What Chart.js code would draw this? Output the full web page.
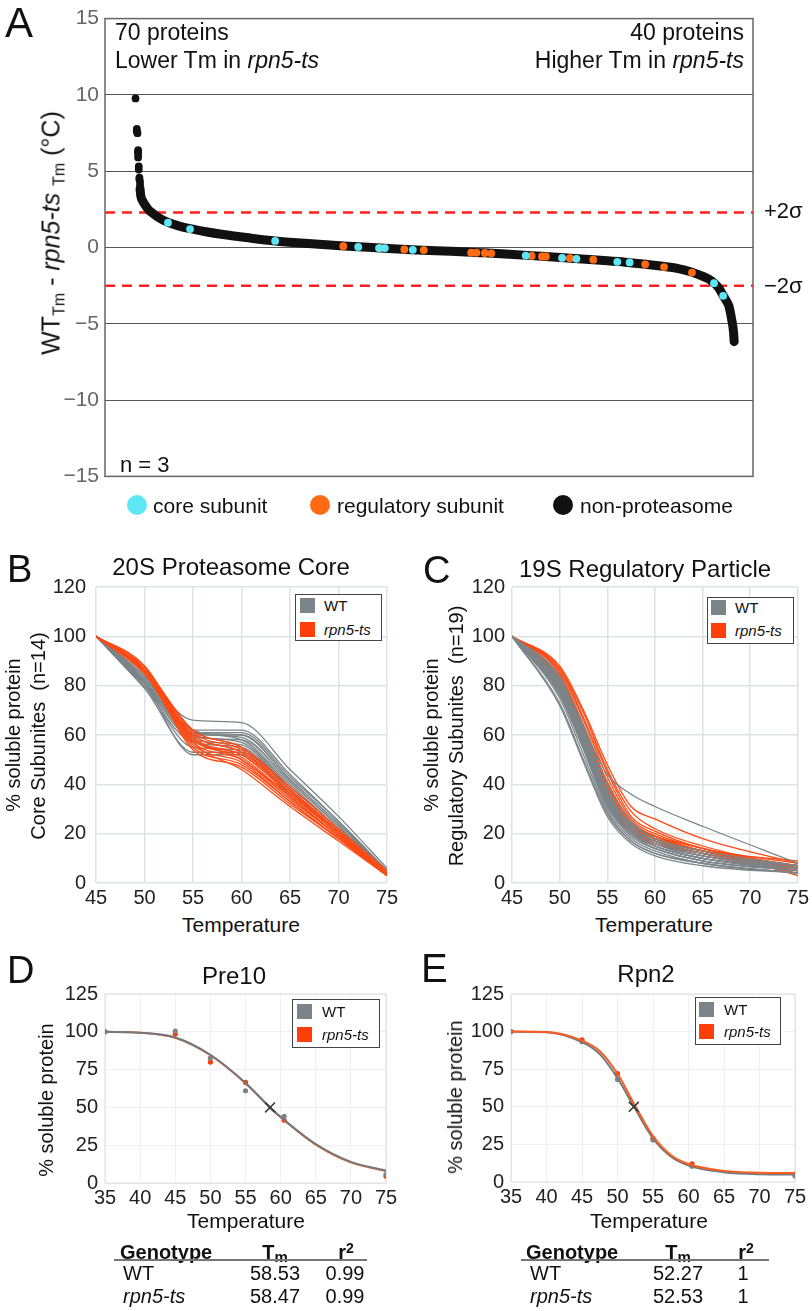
<!DOCTYPE html>
<html>
<head>
<meta charset="utf-8">
<script src="https://cdn.jsdelivr.net/npm/chart.js@4.4.0/dist/chart.umd.min.js"></script>
<style>
body { margin: 0; background: #fff; }
#pagina { position: relative; width: 812px; height: 1311px; overflow: hidden; font-family: 'Liberation Sans', Arial, sans-serif; color: #111; }
canvas { position: absolute; }
.t { position: absolute; white-space: pre; line-height: 1; transform: translateY(-50%); }
.tc { position: absolute; white-space: pre; line-height: 1; transform: translate(-50%, -50%); }
.tr { position: absolute; white-space: pre; line-height: 1; transform: translate(-100%, -50%); }
.rot { position: absolute; white-space: pre; line-height: 1; transform: translate(-50%, -50%) rotate(-90deg); }
.letra { position: absolute; line-height: 1; transform: translateY(-50%); font-size: 38px; }
.leg { position: absolute; border: 1px solid #444; background: #fff; box-sizing: border-box; }
.sw { position: absolute; width: 15px; height: 15px; }
.bola { position: absolute; width: 20px; height: 20px; border-radius: 50%; transform: translate(-50%, -50%); }
.linha { position: absolute; height: 2px; background: #777; }
.sm { font-size: 16px; }
</style>
</head>
<body>
<div id="pagina">
  <canvas id="chartA" width="812" height="495" style="left:0;top:0;width:812px;height:495px"></canvas>
  <canvas id="chartB" width="405" height="350" style="left:0;top:560px;width:405px;height:350px"></canvas>
  <canvas id="chartC" width="402" height="350" style="left:410px;top:560px;width:402px;height:350px"></canvas>
  <canvas id="chartD" width="405" height="240" style="left:0;top:975px;width:405px;height:240px"></canvas>
  <canvas id="chartE" width="402" height="240" style="left:410px;top:975px;width:402px;height:240px"></canvas>

  <!-- painel A -->
  <div class="letra" style="left:5px;top:23px;font-size:42px">A</div>
  <div class="t" style="left:115px;top:32px;font-size:23px">70 proteins</div>
  <div class="t" style="left:115px;top:60px;font-size:23px">Lower Tm in <i>rpn5-ts</i></div>
  <div class="tr" style="left:744px;top:32px;font-size:23px">40 proteins</div>
  <div class="tr" style="left:744px;top:60px;font-size:23px">Higher Tm in <i>rpn5-ts</i></div>
  <div class="t" style="left:764px;top:211px;font-size:22px">+2σ</div>
  <div class="t" style="left:764px;top:286px;font-size:22px">−2σ</div>
  <div class="t" style="left:120px;top:465px;font-size:22px">n = 3</div>
  <div class="rot" style="left:51px;top:233px;font-size:25px">WT<span class="sm" style="position:relative;top:5px">Tm</span> - <i>rpn5-ts</i> <span class="sm" style="position:relative;top:5px">Tm</span> (°C)</div>
  <div class="bola" style="left:137px;top:505px;background:#5fe6f4"></div>
  <div class="t" style="left:153px;top:505px;font-size:21px">core subunit</div>
  <div class="bola" style="left:320px;top:505px;background:#ff6a12"></div>
  <div class="t" style="left:337px;top:505px;font-size:21px">regulatory subunit</div>
  <div class="bola" style="left:563px;top:505px;background:#111"></div>
  <div class="t" style="left:580px;top:505px;font-size:21px">non-proteasome</div>

  <!-- painel B -->
  <div class="letra" style="left:7px;top:569px">B</div>
  <div class="tc" style="left:231px;top:567px;font-size:24px">20S Proteasome Core</div>
  <div class="rot" style="left:13px;top:735px;font-size:20px">% soluble protein</div>
  <div class="rot" style="left:38px;top:736px;font-size:20px">Core Subunites  (n=14)</div>
  <div class="tc" style="left:241px;top:924px;font-size:21px">Temperature</div>
  <div class="leg" style="left:295px;top:594px;width:87px;height:47px"></div>
  <div class="sw" style="left:300px;top:598px;background:#7b8589"></div>
  <div class="t" style="left:324px;top:605px;font-size:15px">WT</div>
  <div class="sw" style="left:300px;top:622px;background:#ff3f0a"></div>
  <div class="t" style="left:324px;top:629px;font-size:15px"><i>rpn5-ts</i></div>

  <!-- painel C -->
  <div class="letra" style="left:423px;top:570px">C</div>
  <div class="tc" style="left:645px;top:569px;font-size:24px">19S Regulatory Particle</div>
  <div class="rot" style="left:431px;top:735px;font-size:20px">% soluble protein</div>
  <div class="rot" style="left:456px;top:736px;font-size:20px">Regulatory Subunites  (n=19)</div>
  <div class="tc" style="left:654px;top:924px;font-size:21px">Temperature</div>
  <div class="leg" style="left:707px;top:597px;width:87px;height:47px"></div>
  <div class="sw" style="left:711px;top:600px;background:#7b8589"></div>
  <div class="t" style="left:735px;top:607px;font-size:15px">WT</div>
  <div class="sw" style="left:711px;top:623px;background:#ff3f0a"></div>
  <div class="t" style="left:735px;top:630px;font-size:15px"><i>rpn5-ts</i></div>

  <!-- painel D -->
  <div class="letra" style="left:7px;top:970px">D</div>
  <div class="tc" style="left:234px;top:976px;font-size:24px">Pre10</div>
  <div class="rot" style="left:46px;top:1100px;font-size:20px">% soluble protein</div>
  <div class="tc" style="left:246px;top:1220px;font-size:21px">Temperature</div>
  <div class="leg" style="left:292px;top:999px;width:88px;height:49px"></div>
  <div class="sw" style="left:297px;top:1004px;background:#7b8589"></div>
  <div class="t" style="left:322px;top:1011px;font-size:15px">WT</div>
  <div class="sw" style="left:297px;top:1027px;background:#ff3f0a"></div>
  <div class="t" style="left:322px;top:1034px;font-size:15px"><i>rpn5-ts</i></div>

  <div class="t" style="left:120px;top:1252px;font-size:20px;font-weight:bold">Genotype</div>
  <div class="tc" style="left:275px;top:1252px;font-size:20px;font-weight:bold">T<span style="font-size:15px;position:relative;top:3px">m</span></div>
  <div class="tc" style="left:346px;top:1252px;font-size:20px;font-weight:bold">r<span style="font-size:14px;position:relative;top:-6px">2</span></div>
  <div class="linha" style="left:114px;top:1259px;width:253px"></div>
  <div class="t" style="left:123px;top:1273px;font-size:20px">WT</div>
  <div class="tc" style="left:275px;top:1273px;font-size:20px">58.53</div>
  <div class="tc" style="left:345px;top:1273px;font-size:20px">0.99</div>
  <div class="t" style="left:123px;top:1296px;font-size:20px"><i>rpn5-ts</i></div>
  <div class="tc" style="left:275px;top:1296px;font-size:20px">58.47</div>
  <div class="tc" style="left:345px;top:1296px;font-size:20px">0.99</div>

  <!-- painel E -->
  <div class="letra" style="left:421px;top:968px;font-size:40px">E</div>
  <div class="tc" style="left:646px;top:974px;font-size:24px">Rpn2</div>
  <div class="rot" style="left:455px;top:1097px;font-size:20px">% soluble protein</div>
  <div class="tc" style="left:649px;top:1220px;font-size:21px">Temperature</div>
  <div class="leg" style="left:695px;top:997px;width:86px;height:48px"></div>
  <div class="sw" style="left:699px;top:1002px;background:#7b8589"></div>
  <div class="t" style="left:724px;top:1009px;font-size:15px">WT</div>
  <div class="sw" style="left:699px;top:1024px;background:#ff3f0a"></div>
  <div class="t" style="left:724px;top:1031px;font-size:15px"><i>rpn5-ts</i></div>

  <div class="t" style="left:526px;top:1252px;font-size:20px;font-weight:bold">Genotype</div>
  <div class="tc" style="left:678px;top:1252px;font-size:20px;font-weight:bold">T<span style="font-size:15px;position:relative;top:3px">m</span></div>
  <div class="tc" style="left:746px;top:1252px;font-size:20px;font-weight:bold">r<span style="font-size:14px;position:relative;top:-6px">2</span></div>
  <div class="linha" style="left:521px;top:1259px;width:248px"></div>
  <div class="t" style="left:530px;top:1273px;font-size:20px">WT</div>
  <div class="tc" style="left:678px;top:1273px;font-size:20px">52.27</div>
  <div class="tc" style="left:743px;top:1273px;font-size:20px">1</div>
  <div class="t" style="left:530px;top:1296px;font-size:20px"><i>rpn5-ts</i></div>
  <div class="tc" style="left:678px;top:1296px;font-size:20px">52.53</div>
  <div class="tc" style="left:743px;top:1296px;font-size:20px">1</div>
</div>

<script>
const FONTE = "'Liberation Sans', Arial, sans-serif";
const CINZA = '#7b8589';
const LARANJA = '#ff4a14';

// ---- Painel A: diferença de Tm por proteína (ordem de ranking) ----
const aYTicks = [-15, -10, -5, 0, 5, 10, 15];
const aSigma = [2.30, -2.51];
const aCaudaRank = [44, 46, 46, 47, 48, 48, 48, 48, 49, 49, 50, 50, 51, 51];
const aCaudaVal = [9.77, 7.77, 7.62, 7.49, 6.38, 6.25, 6.13, 5.90, 5.32, 5.11, 4.58, 4.45, 4.30, 4.05];
const aFaixaRank = [51, 52, 55, 59, 64, 71, 80, 94, 110, 128, 150, 179, 215, 259, 310, 365, 421, 477, 530, 575, 620, 670, 720, 760, 798, 830, 858, 880, 900, 915, 928, 937, 943, 949, 954, 958, 962, 965, 966];
const aFaixaVal = [3.85, 3.41, 3.05, 2.77, 2.48, 2.23, 1.95, 1.64, 1.42, 1.23, 1.05, 0.85, 0.65, 0.43, 0.26, 0.10, -0.03, -0.16, -0.25, -0.34, -0.44, -0.58, -0.72, -0.84, -0.96, -1.10, -1.25, -1.38, -1.60, -1.84, -2.10, -2.40, -2.70, -3.15, -3.50, -3.85, -4.68, -5.53, -6.17];
const coreRank = [94, 128, 259, 387, 419, 428, 471, 645, 701, 723, 786, 805, 935, 949];
const coreVal = [1.63, 1.21, 0.43, 0.04, -0.04, -0.04, -0.15, -0.53, -0.68, -0.74, -0.94, -0.98, -2.34, -3.17];
const regRank = [364, 421, 458, 488, 561, 569, 582, 592, 654, 670, 676, 713, 749, 829, 858, 901];
const regVal = [0.09, -0.04, -0.13, -0.17, -0.34, -0.34, -0.36, -0.38, -0.55, -0.59, -0.59, -0.70, -0.80, -1.10, -1.28, -1.64];

// ---- Painel B: 20S (temperaturas e curvas) ----
const bTemps = [45, 50, 55, 60, 65, 70, 75];
const bWT = [
    [100, 84, 66, 65, 46, 27, 6],
    [100, 83, 62, 62, 44, 25, 5],
    [100, 82, 61, 61, 43, 25, 5],
    [100, 82, 60, 60, 42, 24, 5],
    [100, 81, 61, 59, 41, 23, 4],
    [100, 83, 62, 58, 40, 22, 4],
    [100, 80, 59, 58, 41, 23, 5],
    [100, 82, 60, 57, 39, 22, 4],
    [100, 81, 58, 56, 38, 21, 4],
    [100, 79, 57, 55, 38, 21, 3],
    [100, 80, 55, 54, 37, 20, 3],
    [100, 79, 53, 53, 36, 20, 3],
    [100, 81, 52, 52, 35, 19, 3],
    [100, 84, 61, 60, 42, 24, 5]
];
const bTs = [
    [100, 87, 62, 55, 38, 21, 4],
    [100, 86, 60, 53, 37, 20, 4],
    [100, 88, 59, 52, 36, 20, 3],
    [100, 86, 58, 51, 35, 19, 3],
    [100, 85, 57, 50, 34, 19, 3],
    [100, 87, 61, 54, 37, 21, 4],
    [100, 86, 56, 49, 33, 18, 3],
    [100, 85, 55, 48, 33, 18, 3],
    [100, 87, 54, 47, 32, 18, 3],
    [100, 86, 58, 52, 36, 20, 4],
    [100, 85, 60, 53, 37, 21, 4],
    [100, 88, 57, 46, 31, 17, 3],
    [100, 86, 62, 55, 39, 22, 5],
    [100, 85, 59, 50, 35, 19, 4]
];

// ---- Painel C: 19S ----
const cTemps = [45, 50, 52.5, 55, 57.5, 60, 65, 75];
const cWT = [
    [100, 84, 64, 40, 25, 18, 12, 7],
    [100, 82, 62, 38, 23, 17, 11, 7],
    [100, 81, 60, 36, 22, 16, 11, 6],
    [100, 80, 59, 35, 22, 16, 10, 6],
    [100, 79, 58, 34, 21, 15, 10, 6],
    [100, 78, 57, 33, 21, 15, 10, 5],
    [100, 80, 57, 32, 20, 14, 9, 5],
    [100, 77, 55, 31, 19, 14, 9, 5],
    [100, 76, 54, 30, 18, 13, 8, 4],
    [100, 75, 52, 29, 17, 12, 8, 4],
    [100, 73, 50, 28, 17, 12, 8, 4],
    [100, 72, 49, 27, 16, 11, 7, 4],
    [100, 82, 61, 37, 23, 17, 11, 7],
    [100, 79, 56, 33, 20, 15, 10, 6],
    [100, 81, 63, 44, 36, 31, 23, 8],
    [100, 78, 58, 35, 24, 18, 13, 7],
    [100, 83, 60, 34, 21, 15, 10, 5],
    [100, 77, 56, 32, 19, 14, 9, 5],
    [100, 80, 60, 36, 24, 18, 12, 7]
];
const cTs = [
    [100, 88, 70, 48, 31, 26, 18, 8],
    [100, 87, 69, 46, 29, 22, 15, 6],
    [100, 87, 67, 45, 27, 21, 14, 7],
    [100, 86, 66, 43, 26, 20, 14, 8],
    [100, 85, 64, 41, 25, 19, 13, 7],
    [100, 85, 62, 39, 24, 18, 13, 6],
    [100, 82, 61, 37, 23, 18, 13, 5],
    [100, 80, 59, 35, 22, 17, 12, 4],
    [100, 81, 60, 36, 23, 18, 13, 6],
    [100, 79, 57, 34, 21, 17, 12, 7],
    [100, 83, 62, 38, 24, 19, 13, 6],
    [100, 78, 56, 33, 21, 16, 12, 5],
    [100, 80, 58, 35, 23, 18, 13, 9],
    [100, 82, 60, 36, 24, 19, 14, 3],
    [100, 79, 58, 34, 22, 17, 12, 6],
    [100, 81, 59, 35, 22, 17, 12, 5],
    [100, 84, 63, 40, 25, 19, 13, 7],
    [100, 77, 55, 32, 20, 16, 11, 5],
    [100, 82, 61, 37, 24, 18, 13, 6]
];

// ---- Painel D: Pre10 ----
const dTemps = [35, 45, 50, 55, 60.5, 75];
const dWT = [100, 100.5, 82.6, 61, 44, 5.6];
const dTs = [100, 98.5, 80, 66.5, 41.5, 4.5];
const dAjusteTemps = [35, 40, 45, 50, 55, 58.5, 60, 65, 70, 75];
const dAjusteWT = [100, 99.4, 96.2, 84.8, 66.2, 50, 43.8, 25.8, 14, 8.3];
const dAjusteTs = [100, 99.4, 96, 84.5, 66, 49.8, 43.5, 25.4, 13.6, 7.8];
const dTm = [58.5, 50];

// ---- Painel E: Rpn2 ----
const eTemps = [35, 45, 50, 55, 60.5, 75];
const eWT = [100, 93.3, 68.2, 28, 10.5, 4];
const eTs = [100, 94.5, 72, 29, 12, 5.2];
const eAjusteTemps = [35, 40, 45, 47.5, 50, 52.5, 55, 57.5, 60, 65, 70, 75];
const eAjusteWT = [100, 99.6, 93, 85, 69, 48.5, 29, 17, 11, 6.5, 5.2, 5];
const eAjusteTs = [100, 99.7, 94, 87, 72, 50.5, 30.5, 18, 12, 7.4, 6.2, 6];
const eTm = [52.3, 50];

const xTicksBC = [45, 50, 55, 60, 65, 70, 75];
const yTicksBC = [0, 20, 40, 60, 80, 100, 120];
const xTicksDE = [35, 40, 45, 50, 55, 60, 65, 70, 75];
const yTicksDE = [0, 25, 50, 75, 100, 125];

const moldura = {
    id: 'moldura',
    beforeDatasetsDraw(chart, args, opts) {
        if (!opts.color) return;
        const a = chart.chartArea;
        const ctx = chart.ctx;
        ctx.save();
        ctx.strokeStyle = opts.color;
        ctx.lineWidth = opts.width || 1;
        ctx.strokeRect(a.left, a.top, a.right - a.left, a.bottom - a.top);
        ctx.restore();
    }
};

function pares(xs, ys) {
    return ys.map((v, i) => ({ x: xs[i], y: v }));
}

document.addEventListener('DOMContentLoaded', function () {
    criarPainelA();
    criarCurvas('chartB', bTemps, bWT, bTs, { yw: 96, right: 18, yPad: 10, laranjaEmCima: true });
    criarCurvas('chartC', cTemps, cWT, cTs, { yw: 102, right: 13, yPad: 7, laranjaEmCima: false });
    criarAjuste('chartD', { temps: dTemps, wt: dWT, ts: dTs, fitT: dAjusteTemps, fitWT: dAjusteWT, fitTs: dAjusteTs, tm: dTm, cinzaEmCima: true },
        { yw: 105, right: 19, xh: 32 });
    criarAjuste('chartE', { temps: eTemps, wt: eWT, ts: eTs, fitT: eAjusteTemps, fitWT: eAjusteWT, fitTs: eAjusteTs, tm: eTm, cinzaEmCima: false },
        { yw: 101, right: 17, xh: 33 });
});

function criarPainelA() {
    const ctx = document.getElementById('chartA').getContext('2d');
    const sigmaSets = aSigma.map(s => ({
        type: 'line',
        data: [{ x: -3, y: s }, { x: 995, y: s }],
        borderColor: '#ff1f1f',
        borderWidth: 2.5,
        borderDash: [10, 7],
        pointRadius: 0
    }));
    new Chart(ctx, {
        type: 'scatter',
        data: {
            datasets: [
                { data: pares(coreRank, coreVal), backgroundColor: '#5fe6f4', borderWidth: 0, pointRadius: 3.9 },
                { data: pares(regRank, regVal), backgroundColor: '#ff6a12', borderWidth: 0, pointRadius: 3.9 },
                { data: pares(aCaudaRank, aCaudaVal), backgroundColor: '#111', borderWidth: 0, pointRadius: 3.9 },
                {
                    type: 'line',
                    data: pares(aFaixaRank, aFaixaVal),
                    borderColor: '#111',
                    borderWidth: 9,
                    borderCapStyle: 'round',
                    borderJoinStyle: 'round',
                    cubicInterpolationMode: 'monotone',
                    pointRadius: 0
                },
                ...sigmaSets
            ]
        },
        options: {
            responsive: false,
            animation: false,
            events: [],
            layout: { padding: { top: 13, right: 59, bottom: 15, left: 0 } },
            plugins: {
                legend: { display: false },
                tooltip: { enabled: false },
                moldura: { color: '#666', width: 1.5 }
            },
            scales: {
                x: { type: 'linear', min: -3, max: 995, display: false },
                y: {
                    min: -15,
                    max: 15,
                    afterFit: s => { s.width = 105; },
                    afterBuildTicks: s => { s.ticks = aYTicks.map(v => ({ value: v })); },
                    ticks: {
                        color: '#666',
                        padding: 6,
                        font: { family: FONTE, size: 21 },
                        callback: v => v < 0 ? '\u2212' + Math.abs(v) : String(v)
                    },
                    grid: { color: '#555', lineWidth: 1, drawTicks: false },
                    border: { display: false }
                }
            }
        },
        plugins: [moldura]
    });
}

function opcoesEixos(cfg) {
    return {
        x: {
            type: 'linear',
            min: cfg.xTicks[0],
            max: cfg.xTicks[cfg.xTicks.length - 1],
            afterFit: s => { s.height = cfg.xh; },
            afterBuildTicks: s => { s.ticks = cfg.xTicks.map(v => ({ value: v })); },
            ticks: { color: '#222', padding: 3, maxRotation: 0, autoSkip: false, font: { family: FONTE, size: 20 } },
            grid: { color: cfg.grade, lineWidth: cfg.gradeLarg, drawTicks: false },
            border: { display: false }
        },
        y: {
            min: cfg.yTicks[0],
            max: cfg.yTicks[cfg.yTicks.length - 1],
            afterFit: s => { s.width = cfg.yw; },
            afterBuildTicks: s => { s.ticks = cfg.yTicks.map(v => ({ value: v })); },
            ticks: { color: '#222', padding: cfg.yPad, font: { family: FONTE, size: 20 } },
            grid: { color: cfg.grade, lineWidth: cfg.gradeLarg, drawTicks: false },
            border: { display: false }
        }
    };
}

function criarCurvas(id, temps, wt, ts, cfg) {
    const linha = (vals, cor) => ({
        data: pares(temps, vals),
        borderColor: cor,
        borderWidth: 1.3,
        pointRadius: 0,
        cubicInterpolationMode: 'monotone',
        fill: false
    });
    const laranjas = ts.map(v => linha(v, LARANJA));
    const cinzas = wt.map(v => linha(v, CINZA));
    // o primeiro dataset é desenhado por cima
    const conjuntos = cfg.laranjaEmCima ? [...laranjas, ...cinzas] : [...cinzas, ...laranjas];
    const ctx = document.getElementById(id).getContext('2d');
    new Chart(ctx, {
        type: 'line',
        data: { datasets: conjuntos },
        options: {
            responsive: false,
            animation: false,
            events: [],
            layout: { padding: { top: 27, right: cfg.right, bottom: 0, left: 0 } },
            plugins: { legend: { display: false }, tooltip: { enabled: false } },
            scales: opcoesEixos({
                xTicks: xTicksBC, yTicks: yTicksBC, xh: 27, yw: cfg.yw, yPad: cfg.yPad,
                grade: '#dde3e3', gradeLarg: 1.5
            })
        }
    });
}

function criarAjuste(id, d, cfg) {
    const ajusteWT = {
        data: pares(d.fitT, d.fitWT), borderColor: '#6f7a7e', borderWidth: 2,
        pointRadius: 0, cubicInterpolationMode: 'monotone', fill: false
    };
    const ajusteTs = {
        data: pares(d.fitT, d.fitTs), borderColor: '#ff5a1f', borderWidth: 2,
        pointRadius: 0, cubicInterpolationMode: 'monotone', fill: false
    };
    const pontos = (vals, cor) => ({
        data: pares(d.temps, vals), showLine: false, pointRadius: 2.6,
        backgroundColor: cor, borderWidth: 0
    });
    const linhas = d.cinzaEmCima ? [ajusteWT, ajusteTs] : [ajusteTs, ajusteWT];
    const ctx = document.getElementById(id).getContext('2d');
    new Chart(ctx, {
        type: 'line',
        data: {
            datasets: [
                {
                    data: [{ x: d.tm[0], y: d.tm[1] }], showLine: false, pointStyle: 'crossRot',
                    pointRadius: 7, borderColor: '#333', borderWidth: 1.5
                },
                ...linhas,
                pontos(d.wt, CINZA),
                pontos(d.ts, '#ff3b00')
            ]
        },
        options: {
            responsive: false,
            animation: false,
            events: [],
            layout: { padding: { top: 18, right: cfg.right, bottom: 0, left: 0 } },
            plugins: {
                legend: { display: false },
                tooltip: { enabled: false },
                moldura: { color: '#dcdcdc', width: 1 }
            },
            scales: opcoesEixos({
                xTicks: xTicksDE, yTicks: yTicksDE, xh: cfg.xh, yw: cfg.yw, yPad: 7,
                grade: '#f0f0f0', gradeLarg: 1
            })
        },
        plugins: [moldura]
    });
}
</script>
</body>
</html>
